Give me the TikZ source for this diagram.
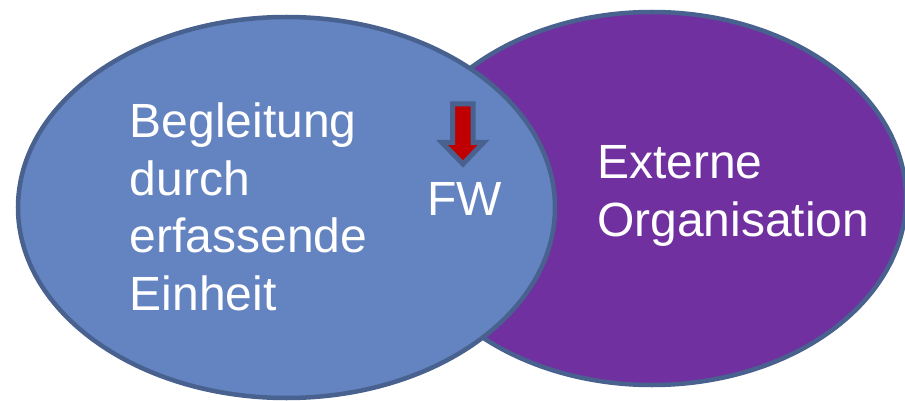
\documentclass[tikz,border=0pt]{standalone}
\usepackage{fontspec}
\setmainfont{Liberation Sans}
\definecolor{blueFill}{HTML}{6383C1}
\definecolor{purpleFill}{HTML}{7030A0}
\definecolor{edgeBlue}{HTML}{48618F}
\definecolor{arrowRed}{HTML}{C00000}
\tikzset{
  venn/.style={draw=edgeBlue, line width=4.5pt},
  label/.style={text=white, font=\fontsize{48}{57.5}\selectfont, inner sep=0pt, align=left, anchor=base west},
}
\begin{document}
\begin{tikzpicture}[x=1pt, y=-1pt]
\useasboundingbox (0,0) rectangle (905,401);
\fill[white] (0,0) rectangle (905,401);
% purple ellipse (behind)
\draw[venn, fill=purpleFill] (652,198.5) ellipse [x radius=254, y radius=186.5];
% blue ellipse (front)
\draw[venn, fill=blueFill] (286.5,207.5) ellipse [x radius=268.5, y radius=190.5];
% texts (base anchor = baseline of the last line)
\node[label] (left) at (129.5,310) {Begleitung\\durch\\erfassende\\Einheit};
\node[label] (right) at (597,236) {Externe\\Organisation};
\node[label] (fw) at (427,215) {FW};
% down arrow
\draw[draw=edgeBlue, line width=5pt, fill=arrowRed, line join=miter]
  (452.5,104) -- (473,104) -- (473,142.5) -- (483.5,142.5) -- (463,164)
  -- (442,142.5) -- (452.5,142.5) -- cycle;
\end{tikzpicture}
\end{document}
